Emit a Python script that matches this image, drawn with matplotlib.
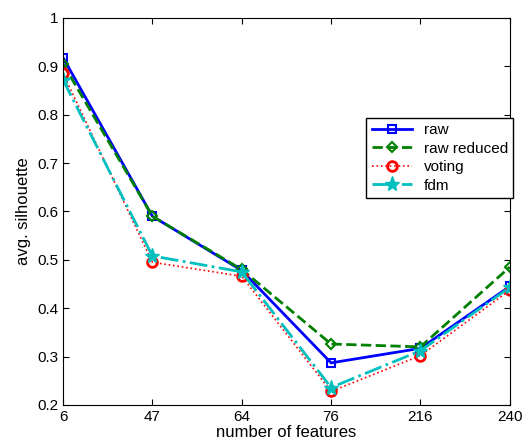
import matplotlib
matplotlib.use("Agg")
import matplotlib.pyplot as plt

features = ["6", "47", "64", "76", "216", "240"]
raw = [0.918, 0.590, 0.478, 0.287, 0.317, 0.445]
raw_reduced = [0.905, 0.590, 0.480, 0.326, 0.320, 0.485]
voting = [0.885, 0.495, 0.466, 0.228, 0.302, 0.437]
fdm = [0.872, 0.508, 0.475, 0.236, 0.312, 0.443]

plt.rcParams["font.family"] = ["Liberation Sans", "DejaVu Sans"]

fig = plt.figure(figsize=(5.25, 4.46), dpi=100)
ax = fig.add_axes([0.12, 0.092, 0.851, 0.868])
x = range(len(features))

ax.plot(x, raw, "-s", color="blue", lw=2, ms=6, mfc="none", mew=1.5, label="raw")
ax.plot(x, raw_reduced, "--D", color=(0, 0.5, 0), lw=2, ms=5, mfc="none", mew=1.5,
        label="raw reduced")
ax.plot(x, voting, ":o", color="red", lw=1.2, ms=7, mfc="none", mew=2, label="voting")
ax.plot(x, fdm, "-.*", color=(0, 0.75, 0.75), lw=2, ms=11, label="fdm")

ax.set_xlim(0, len(features) - 1)
ax.set_ylim(0.2, 1.0)
ax.set_xticks(list(x))
ax.set_xticklabels(features)
ax.set_yticks([0.2, 0.3, 0.4, 0.5, 0.6, 0.7, 0.8, 0.9, 1.0])
ax.set_yticklabels(["0.2", "0.3", "0.4", "0.5", "0.6", "0.7", "0.8", "0.9", "1"])
ax.tick_params(direction="in", top=True, right=True, labelsize=11, length=4)
ax.set_xlabel("number of features", fontsize=12, labelpad=1)
ax.set_ylabel("avg. silhouette", fontsize=12)

leg = ax.legend(loc="upper right", bbox_to_anchor=(1.008, 0.742), fontsize=11,
                fancybox=False, framealpha=1, edgecolor="black",
                borderpad=0.35, labelspacing=0.3, handlelength=2.6, borderaxespad=0)
leg.get_frame().set_linewidth(1)

plt.savefig("out.png", dpi=100)
plt.close()
